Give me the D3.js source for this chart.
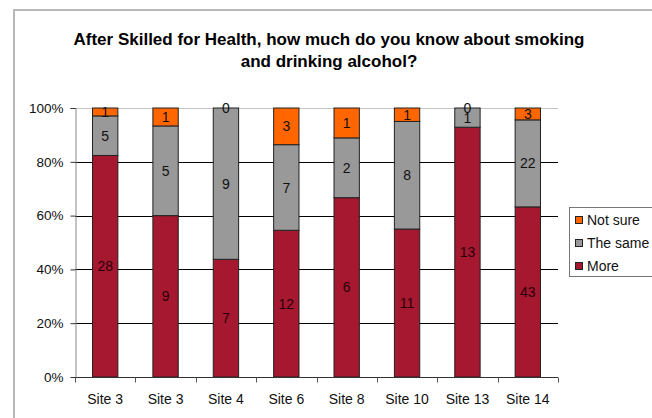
<!DOCTYPE html>
<html>
<head>
<meta charset="utf-8">
<script src="https://cdn.jsdelivr.net/npm/d3@7/dist/d3.min.js"></script>
<style>
  html, body { margin: 0; padding: 0; background: #fff; }
  svg { display: block; font-family: "Liberation Sans", Arial, sans-serif; }
</style>
</head>
<body>
<svg id="chart" width="652" height="418"></svg>
<script>
// Survey responses per site (counts)
const sites = ["Site 3", "Site 3", "Site 4", "Site 6", "Site 8", "Site 10", "Site 13", "Site 14"];
const more = [28, 9, 7, 12, 6, 11, 13, 43];
const theSame = [5, 5, 9, 7, 2, 8, 1, 22];
const notSure = [1, 1, 0, 3, 1, 1, 0, 3];

const seriesNames = ["More", "The same", "Not sure"];
const seriesColors = ["#A5182F", "#999999", "#FF6600"];
const yTicks = [0, 0.2, 0.4, 0.6, 0.8, 1.0];

const svg = d3.select("#chart");
const W = 652, H = 418;
const plot = { left: 75, right: 558, top: 108, bottom: 377 };

// outer frame
svg.append("rect")
  .attr("x", 14).attr("y", 10).attr("width", W + 10).attr("height", H + 10)
  .attr("fill", "#fff").attr("stroke", "#b8b8b8").attr("stroke-width", 2);

// title
const title = svg.append("text")
  .attr("text-anchor", "middle")
  .attr("font-size", 17).attr("font-weight", "bold").attr("fill", "#000");
title.append("tspan").attr("x", 329).attr("y", 45).text("After Skilled for Health, how much do you know about smoking");
title.append("tspan").attr("x", 329).attr("y", 67).text("and drinking alcohol?");

const x = d3.scaleBand().domain(d3.range(sites.length))
  .range([plot.left, plot.right]).paddingInner(0.58).paddingOuter(0.29);
const xOuter = d3.scaleBand().domain(d3.range(sites.length))
  .range([plot.left, plot.right]);
const y = d3.scaleLinear().domain([0, 1]).range([plot.bottom, plot.top]);

// gridlines
svg.append("g").selectAll("line")
  .data(yTicks.filter(t => t > 0))
  .join("line")
  .attr("x1", plot.left).attr("x2", plot.right)
  .attr("y1", d => Math.round(y(d)) + 0.5).attr("y2", d => Math.round(y(d)) + 0.5)
  .attr("stroke", d => d === 1 ? "#c4c4c4" : "#000").attr("stroke-width", 1);

// stacked percentages
const rows = sites.map((s, i) => ({ i, "More": more[i], "The same": theSame[i], "Not sure": notSure[i],
  total: more[i] + theSame[i] + notSure[i] }));
const stack = d3.stack().keys(seriesNames)
  .value((d, k) => d[k] / d.total);
const layers = stack(rows);

const gBars = svg.append("g");
layers.forEach((layer, li) => {
  gBars.selectAll(null)
    .data(layer)
    .join("rect")
    .attr("x", d => x(d.data.i))
    .attr("width", x.bandwidth())
    .attr("y", d => y(d[1]))
    .attr("height", d => y(d[0]) - y(d[1]))
    .attr("fill", seriesColors[li])
    .attr("stroke", "#222").attr("stroke-width", 1);
});

// value labels centred in each segment
layers.forEach((layer, li) => {
  const key = seriesNames[li];
  gBars.selectAll(null)
    .data(layer)
    .join("text")
    .attr("x", d => x(d.data.i) + x.bandwidth() / 2)
    .attr("y", d => y((d[0] + d[1]) / 2))
    .attr("dy", "0.36em")
    .attr("text-anchor", "middle")
    .attr("font-size", 14)
    .attr("fill", li === 0 ? "#2a0008" : "#111")
    .text(d => d.data[key]);
});

// y axis
const yAxis = d3.axisLeft(y).tickValues(yTicks).tickFormat(d3.format(".0%"))
  .tickSize(5).tickPadding(7);
const gy = svg.append("g").attr("transform", `translate(${plot.left + 0.5},0)`).call(yAxis);
gy.select(".domain").attr("stroke", "#888");
gy.selectAll(".tick line").attr("stroke", "#333");
gy.selectAll(".tick text").attr("font-size", 13.5).attr("fill", "#111")
  .attr("font-family", "'Liberation Sans', Arial, sans-serif");

// x axis with ticks at category boundaries
const gx = svg.append("g").attr("transform", `translate(0,${plot.bottom + 0.5})`);
gx.append("line").attr("x1", plot.left).attr("x2", plot.right)
  .attr("stroke", "#333");
const bounds = d3.range(sites.length).map(i => xOuter(i)).concat([plot.right]);
gx.selectAll(".bt").data(bounds).join("line")
  .attr("x1", d => Math.round(d) + 0.5).attr("x2", d => Math.round(d) + 0.5)
  .attr("y1", 0).attr("y2", 5).attr("stroke", "#555");
gx.selectAll(".lbl").data(sites).join("text")
  .attr("x", (d, i) => xOuter(i) + xOuter.bandwidth() / 2)
  .attr("y", 26)
  .attr("text-anchor", "middle")
  .attr("font-size", 14).attr("fill", "#111")
  .text(d => d);

// legend
const legend = svg.append("g");
legend.append("rect")
  .attr("x", 569.5).attr("y", 207.5).attr("width", 84).attr("height", 69)
  .attr("fill", "#fff").attr("stroke", "#777");
const legendOrder = [2, 1, 0];
legendOrder.forEach((si, k) => {
  const cy = 220 + k * 23;
  legend.append("rect")
    .attr("x", 575.5).attr("y", cy - 3.5).attr("width", 7).attr("height", 7)
    .attr("fill", seriesColors[si]).attr("stroke", "#222");
  legend.append("text")
    .attr("x", 587).attr("y", cy).attr("dy", "0.36em")
    .attr("font-size", 14).attr("fill", "#111")
    .text(seriesNames[si]);
});
</script>
</body>
</html>
